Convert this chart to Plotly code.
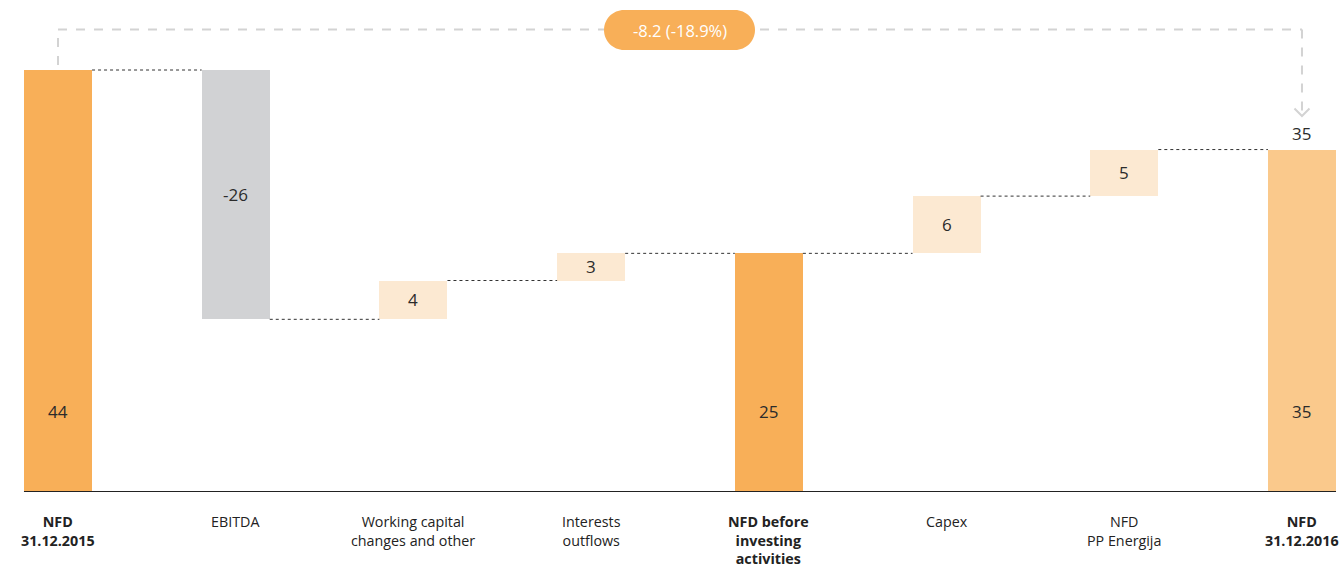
import plotly.graph_objects as go

# Net financial debt bridge, EUR m
categories = [
    "NFD<br>31.12.2015",
    "EBITDA",
    "Working capital<br>changes and other",
    "Interests<br>outflows",
    "NFD before<br>investing<br>activities",
    "Capex",
    "NFD<br>PP Energija",
    "NFD<br>31.12.2016",
]
kinds = ["total", "delta", "delta", "delta", "total", "delta", "delta", "total"]
opening_nfd = 43.5
movements = [None, -25.7, 4.0, 2.8, None, 5.9, 4.8, None]

bar_colors = ["#F8AF58", "#D1D2D4", "#FCE9D2", "#FCE9D2",
              "#F8AF58", "#FCE9D2", "#FCE9D2", "#FAC98C"]

# running totals -> floating bar bases / heights
bases, heights, levels = [], [], []
running = opening_nfd
for kind, mv in zip(kinds, movements):
    if kind == "total":
        bases.append(0)
        heights.append(running)
    else:
        start = running
        running = running + mv
        bases.append(min(start, running))
        heights.append(abs(mv))
    levels.append(running)
closing_nfd = running
change = closing_nfd - opening_nfd
change_pct = change / opening_nfd * 100

W, H = 1342, 564
PLOT_H = 492
X_RANGE = [-0.3264, 7.2252]
Y_MAX = opening_nfd * PLOT_H / 422.0
BAR_W = 0.383
FONT = "Open Sans"
PX_PER_X = W / (X_RANGE[1] - X_RANGE[0])

xs = list(range(len(categories)))

fig = go.Figure()
fig.add_trace(go.Bar(
    x=xs, y=heights, base=bases, width=BAR_W,
    marker=dict(color=bar_colors, line=dict(width=0)),
    hoverinfo="skip", showlegend=False,
))

shapes = []
annotations = []


def py_to_paper(py):
    return (PLOT_H - py) / PLOT_H


def px_to_paper(px):
    return px / W


# dotted connectors between consecutive bars
for i in range(len(xs) - 1):
    lvl = levels[i]
    shapes.append(dict(
        type="line", xref="x", yref="y",
        x0=xs[i] + BAR_W / 2, x1=xs[i + 1] - BAR_W / 2, y0=lvl, y1=lvl,
        line=dict(color="#333333", width=1, dash="dot"),
    ))

# baseline
shapes.append(dict(
    type="line", xref="x", yref="y",
    x0=xs[0] - BAR_W / 2, x1=xs[-1] + BAR_W / 2, y0=0, y1=0,
    line=dict(color="#222222", width=2),
))

# bracket from opening to closing NFD
bracket = dict(color="#D3D3D3", width=2, dash="dash")
top_y = py_to_paper(29.5)
shapes.append(dict(type="line", xref="x", yref="paper",
                   x0=xs[0], x1=xs[0], y0=py_to_paper(65), y1=top_y, line=bracket))
shapes.append(dict(type="line", xref="x", yref="paper",
                   x0=xs[0], x1=xs[-1], y0=top_y, y1=top_y, line=bracket))
shapes.append(dict(type="line", xref="x", yref="paper",
                   x0=xs[-1], x1=xs[-1], y0=top_y, y1=py_to_paper(115), line=bracket))
# open chevron at the bracket end
dx = 7.5 / PX_PER_X
shapes.append(dict(
    type="path", xref="x", yref="paper",
    path=(f"M {xs[-1] - dx},{py_to_paper(108.5)} L {xs[-1]},{py_to_paper(116)} "
          f"L {xs[-1] + dx},{py_to_paper(108.5)}"),
    line=dict(color="#D3D3D3", width=2),
))

# pill holding the change
x0p, x1p, y0p, y1p, r = 604, 755, 10, 50, 20
k = 0.5523 * r
pts = [
    ("M", [(x0p + r, y0p)]),
    ("L", [(x1p - r, y0p)]),
    ("C", [(x1p - r + k, y0p), (x1p, y0p + r - k), (x1p, y0p + r)]),
    ("C", [(x1p, y1p - r + k), (x1p - r + k, y1p), (x1p - r, y1p)]),
    ("L", [(x0p + r, y1p)]),
    ("C", [(x0p + r - k, y1p), (x0p, y1p - r + k), (x0p, y1p - r)]),
    ("C", [(x0p, y0p + r - k), (x0p + r - k, y0p), (x0p + r, y0p)]),
]
path = " ".join(
    cmd + " " + " ".join(f"{px_to_paper(a):.5f},{py_to_paper(b):.5f}" for a, b in p)
    for cmd, p in pts
) + " Z"
shapes.append(dict(type="path", xref="paper", yref="paper", path=path,
                   fillcolor="#F8AF58", line=dict(width=0)))

annotations.append(dict(
    xref="paper", yref="paper",
    x=px_to_paper((x0p + x1p) / 2), y=py_to_paper((y0p + y1p) / 2),
    xanchor="center", yanchor="middle",
    text=f"{change:.1f} ({change_pct:.1f}%)", showarrow=False,
    font=dict(family=FONT, size=16.5, color="white"),
))

# value labels
label_font = dict(family=FONT, size=17, color="#2B2B2B")
for i, kind in enumerate(kinds):
    if kind == "total":
        val = heights[i]
        annotations.append(dict(x=xs[i], y=8.25, xref="x", yref="y",
                                yanchor="middle",
                                text=f"{val:.0f}", showarrow=False, font=label_font))
    else:
        mid = bases[i] + heights[i] / 2
        annotations.append(dict(x=xs[i], y=mid, xref="x", yref="y",
                                yanchor="middle",
                                text=f"{movements[i]:.0f}", showarrow=False,
                                font=label_font))
annotations.append(dict(x=xs[-1], y=closing_nfd, xref="x", yref="y",
                        text=f"{closing_nfd:.0f}", showarrow=False,
                        yanchor="bottom", yshift=3, font=label_font))

# category labels below the axis
for i, cat in enumerate(categories):
    txt = f"<b>{cat}</b>" if kinds[i] == "total" else cat
    annotations.append(dict(
        x=xs[i], xref="x", y=py_to_paper(510), yref="paper", yanchor="top",
        text=txt, showarrow=False, align="center",
        font=dict(family=FONT, size=14.3, color="#222222"),
    ))

fig.update_layout(
    width=W, height=H,
    margin=dict(l=0, r=0, t=0, b=H - PLOT_H, pad=0),
    paper_bgcolor="white", plot_bgcolor="white",
    xaxis=dict(range=X_RANGE, visible=False, fixedrange=True),
    yaxis=dict(range=[0, Y_MAX], visible=False, fixedrange=True),
    shapes=shapes, annotations=annotations,
    bargap=0, showlegend=False,
)

fig.write_html("out.html")
